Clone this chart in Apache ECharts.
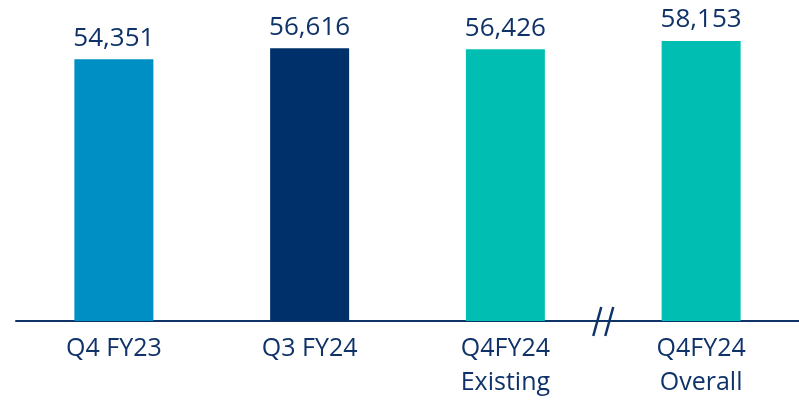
<!DOCTYPE html>
<html>
<head>
<meta charset="utf-8">
<script src="https://cdn.jsdelivr.net/npm/echarts@6/dist/echarts.min.js"></script>
<style>
  html, body { margin: 0; padding: 0; background: #fff; }
  #chart { width: 799px; height: 400px; }
</style>
</head>
<body>
<div id="chart"></div>
<script>
// Subscriber counts by period
const categories = ['Q4 FY23', 'Q3 FY24', 'Q4FY24\nExisting', 'Q4FY24\nOverall'];
const values = [54351, 56616, 56426, 58153];
const barColors = ['#008fc4', '#003069', '#00bfb2', '#00bfb2'];

const navy = '#0f3369';
const font = '"Open Sans", sans-serif';

const chart = echarts.init(document.getElementById('chart'), null, { renderer: 'canvas' });

chart.setOption({
  animation: false,
  grid: { left: 16, right: 0, top: 32, bottom: 79 },
  xAxis: {
    type: 'category',
    data: categories,
    axisLine: { show: true, lineStyle: { color: navy, width: 2 } },
    axisTick: { show: false },
    axisLabel: {
      color: navy, fontFamily: font, fontSize: 25, lineHeight: 34, margin: 11
    }
  },
  yAxis: {
    type: 'value', min: 0, max: 60000,
    show: false, splitLine: { show: false }
  },
  series: [{
    type: 'bar',
    barWidth: 79,
    data: values.map((v, i) => ({ value: v, itemStyle: { color: barColors[i] } })),
    label: {
      show: true, position: 'top', distance: 8,
      color: navy, fontFamily: font, fontSize: 26,
      formatter: p => p.value.toLocaleString('en-US')
    }
  }]
});

// Axis break marker between the last two categories
function drawBreak() {
  const a = chart.convertToPixel({ xAxisIndex: 0 }, categories[2]);
  const b = chart.convertToPixel({ xAxisIndex: 0 }, categories[3]);
  const y0 = chart.convertToPixel({ yAxisIndex: 0 }, 0);
  const mid = (a + b) / 2;
  const slash = dx => ({
    type: 'line',
    shape: { x1: mid + dx + 4, y1: y0 - 14, x2: mid + dx - 4, y2: y0 + 15 },
    style: { stroke: navy, lineWidth: 2.5 }
  });
  chart.setOption({ graphic: [slash(-6), slash(6)] });
}
drawBreak();
</script>
</body>
</html>
